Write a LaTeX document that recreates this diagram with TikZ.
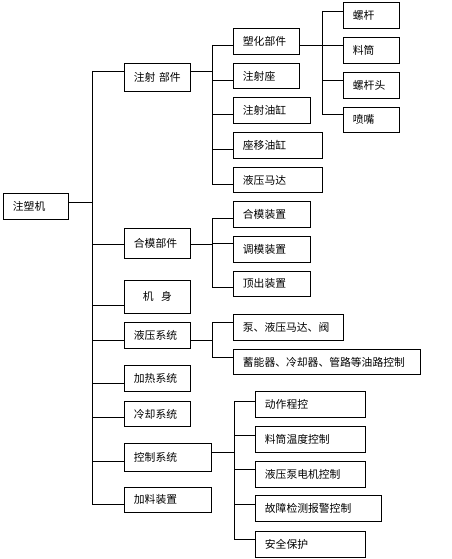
\documentclass[tikz,border=0pt]{standalone}
\usepackage{fontspec}
\setmainfont{Noto Sans CJK SC}
\tikzset{
  box/.style={draw,line width=0.8pt,rectangle,inner xsep=9.5pt,inner ysep=0pt,align=left,
    font=\fontsize{10.8}{12}\selectfont,anchor=north west},
  conn/.style={line width=0.8pt}
}
\newcommand\mybox[6]{%
  \pgfmathsetmacro\bw{#4-#2}\pgfmathsetmacro\bh{#5-#3}\pgfmathsetmacro\tw{#4-#2-19}%
  \node[box,minimum width=\bw pt,minimum height=\bh pt,text width=\tw pt] (#1) at (#2,#3) {#6};}
\begin{document}
\begin{tikzpicture}[x=1pt,y=-1pt]
\useasboundingbox (0,0) rectangle (452,559);
% root
\mybox{root}{3}{193}{68}{219}{注塑机}
% level 1
\mybox{a1}{124}{63}{190}{91}{注射 部件}
\mybox{a2}{124}{228}{190}{258}{合模部件}
\node[box,minimum width=66pt,minimum height=33pt,align=center,text width=47pt] (a3) at (124,280) {机\hspace{0.7em}身};
\mybox{a4}{124}{322}{190}{348}{液压系统}
\mybox{a5}{124}{365}{190}{391}{加热系统}
\mybox{a6}{124}{401}{190}{426}{冷却系统}
\mybox{a7}{124}{443}{211}{471}{控制系统}
\mybox{a8}{124}{487}{211}{512}{加料装置}
% level 2 injection
\mybox{b1}{233}{28}{299}{54}{塑化部件}
\mybox{b2}{233}{63}{299}{88}{注射座}
\mybox{b3}{233}{97}{310}{123}{注射油缸}
\mybox{b4}{233}{132}{322}{158}{座移油缸}
\mybox{b5}{233}{167}{322}{192}{液压马达}
% level 3
\mybox{c1}{343}{2}{399}{28}{螺杆}
\mybox{c2}{343}{37}{399}{63}{料筒}
\mybox{c3}{343}{72}{399}{98}{螺杆头}
\mybox{c4}{343}{107}{399}{132}{喷嘴}
% clamping
\mybox{d1}{233}{201}{310}{227}{合模装置}
\mybox{d2}{233}{236}{310}{262}{调模装置}
\mybox{d3}{233}{271}{310}{296}{顶出装置}
% hydraulic
\mybox{e1}{233}{314}{343}{340}{泵、液压马达、阀}
\mybox{e2}{233}{349}{420}{374}{蓄能器、冷却器、管路等油路控制}
% control
\mybox{f1}{255}{391}{365}{417}{动作程控}
\mybox{f2}{255}{426}{365}{452}{料筒温度控制}
\mybox{f3}{255}{461}{365}{487}{液压泵电机控制}
\mybox{f4}{255}{495}{381}{521}{故障检测报警控制}
\mybox{f5}{255}{531}{365}{557}{安全保护}
% trunk
\coordinate (t1) at (92,71);
\coordinate (t2) at (92,504);
\draw[conn] (root.east |- 0,202) -- (t1 |- 0,202);
\draw[conn] (t1) -- (t2);
\foreach \n/\y in {a1/71,a2/244,a3/305,a4/340,a5/383,a6/417,a7/461,a8/504}
  \draw[conn] (t1 |- 0,\y) -- (\n.west |- 0,\y);
% injection branch
\coordinate (v1) at (212,45);
\draw[conn] (a1.east |- 0,71) -- (v1 |- 0,71);
\draw[conn] (212,45) -- (212,184);
\foreach \n/\y in {b1/45,b2/80,b3/114,b4/149,b5/184}
  \draw[conn] (v1 |- 0,\y) -- (\n.west |- 0,\y);
% plasticizing branch
\coordinate (v2) at (322,11);
\draw[conn] (b1.east |- 0,45) -- (v2 |- 0,45);
\draw[conn] (322,11) -- (322,114);
\foreach \n/\y in {c1/11,c2/45,c3/80,c4/114}
  \draw[conn] (v2 |- 0,\y) -- (\n.west |- 0,\y);
% clamping branch
\coordinate (v3) at (212,218);
\draw[conn] (a2.east |- 0,244) -- (v3 |- 0,244);
\draw[conn] (212,218) -- (212,287);
\foreach \n/\y in {d1/218,d2/243,d3/287}
  \draw[conn] (v3 |- 0,\y) -- (\n.west |- 0,\y);
% hydraulic branch
\coordinate (v4) at (212,322);
\draw[conn] (a4.east |- 0,340) -- (v4 |- 0,340);
\draw[conn] (212,322) -- (212,357);
\foreach \n/\y in {e1/322,e2/357}
  \draw[conn] (v4 |- 0,\y) -- (\n.west |- 0,\y);
% control branch
\coordinate (v5) at (234,401);
\draw[conn] (a7.east |- 0,452) -- (v5 |- 0,452);
\draw[conn] (234,401) -- (234,539);
\foreach \n/\y in {f1/401,f2/435,f3/469,f4/504,f5/539}
  \draw[conn] (v5 |- 0,\y) -- (\n.west |- 0,\y);
\end{tikzpicture}
\end{document}
